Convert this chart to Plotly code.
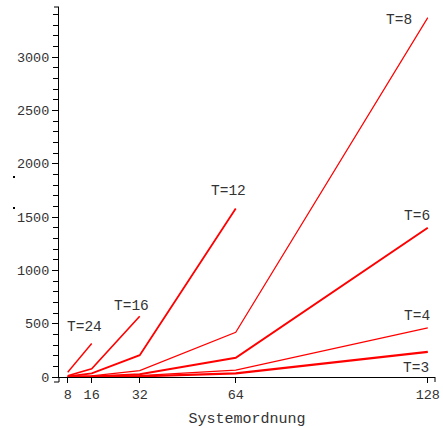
import plotly.graph_objects as go

# System order (x) and cost curves for different T values
ordnung = [8, 16, 32, 64, 128]
t_labels = ["T=24", "T=16", "T=12", "T=8", "T=6", "T=4", "T=3"]
werte_t24 = [45, 314]
werte_t16 = [12, 78, 569]
werte_t12 = [5, 35, 205, 1580]
werte_t8 = [2, 10, 60, 420, 3370]
werte_t6 = [1, 5, 25, 180, 1400]
werte_t4 = [0.5, 2, 12, 65, 460]
werte_t3 = [0.3, 1, 6, 34, 236]
x_ticks = [8, 16, 32, 64, 128]

serien = [werte_t24, werte_t16, werte_t12, werte_t8, werte_t6, werte_t4, werte_t3]
breiten = [1.4, 1.6, 1.8, 1.2, 2.0, 1.2, 2.2]
# label offsets (pixels) from each curve's last point
versatz = [(-7, 17), (-8, 10), (-7, 18), (-29, -2), (-11, 12), (-11, 12), (-12, -16)]

mono = "Liberation Mono, Courier New, monospace"
textfarbe = "#333"

fig = go.Figure()
annotations = []
for label, werte, w, (dx, dy) in zip(t_labels, serien, breiten, versatz):
    xs = ordnung[:len(werte)]
    fig.add_trace(go.Scatter(x=xs, y=werte, mode="lines",
                             line=dict(color="#ff0000", width=w),
                             showlegend=False, hoverinfo="skip"))
    annotations.append(dict(x=xs[-1], y=werte[-1], text=label, showarrow=False,
                            xshift=dx, yshift=dy,
                            font=dict(family=mono, size=14.5, color=textfarbe)))


def pix_linie(xa, ya, x0, y0, x1, y1):
    # short axis-end strokes, sized in pixels from a paper anchor
    return dict(type="line", xref="paper", yref="paper", xsizemode="pixel", ysizemode="pixel",
                xanchor=xa, yanchor=ya, x0=x0, y0=y0, x1=x1, y1=y1,
                line=dict(color="black", width=1))


def pix_punkt(xa, ya, x0, y0):
    return dict(type="rect", xref="paper", yref="paper", xsizemode="pixel", ysizemode="pixel",
                xanchor=xa, yanchor=ya, x0=x0, y0=y0, x1=x0 + 2, y1=y0 + 2,
                fillcolor="black", line=dict(width=0))


shapes = [
    pix_linie(0, 0, 0, 0, 0, -5),     # y axis runs a little below zero
    pix_linie(0, 0, -5, -5, 0, -5),   # end tick at its lower end
    pix_linie(0, 1, -5, 0, 0, 0),     # end tick at the top of the y axis
    pix_linie(1, 0, 0, 0, 0, -5),     # end tick at the right of the x axis
    pix_punkt(0, 1, -46, -171),
    pix_punkt(0, 1, -46, -202),
]

fig.update_layout(
    width=443, height=428,
    margin=dict(l=59, r=8, t=7, b=51),
    paper_bgcolor="white", plot_bgcolor="white",
    annotations=annotations,
    shapes=shapes,
    xaxis=dict(range=[5.1, 130.4], tickvals=x_ticks, ticktext=[str(v) for v in x_ticks],
               automargin=False,
               showgrid=False, zeroline=False, showline=True, linecolor="black", linewidth=1,
               ticks="outside", ticklen=5, tickcolor="black",
               tickfont=dict(family=mono, size=13.5, color=textfarbe),
               title=dict(text="Systemordnung", font=dict(family=mono, size=15, color=textfarbe),
                          standoff=10)),
    yaxis=dict(range=[0, 3470], tick0=0, dtick=500, automargin=False,
               showgrid=False, zeroline=False, showline=True, linecolor="black", linewidth=1,
               ticks="outside", ticklen=6, tickcolor="black",
               tickfont=dict(family=mono, size=13.5, color=textfarbe),
               minor=dict(dtick=100, ticks="outside", ticklen=5, tickcolor="black")),
)

fig.write_html("out.html")
